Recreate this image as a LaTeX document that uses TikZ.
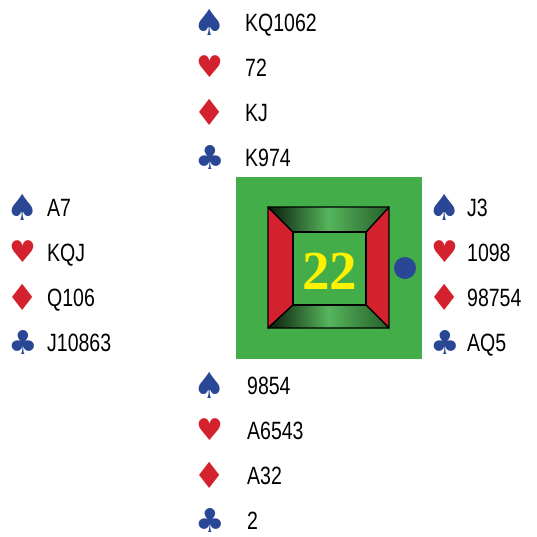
\documentclass[tikz,border=0pt]{standalone}
\usepackage{fontspec}
\setmainfont{Liberation Sans}[FakeStretch=0.78]
\newfontfamily\suitfont{DejaVu Sans}
\newfontfamily\boardfont{Liberation Serif}
\definecolor{felt}{HTML}{43AD4A}
\definecolor{suitblue}{HTML}{2A4796}
\definecolor{suitred}{HTML}{D3222E}
\definecolor{numyellow}{HTML}{FFF200}
\newcommand\spadesym{{\suitfont\fontsize{36}{36}\selectfont\char"2660}}
\newcommand\heartsym{{\suitfont\fontsize{30}{30}\selectfont\char"2665}}
\newcommand\diamsym{{\suitfont\fontsize{36}{36}\selectfont\char"2666}}
\newcommand\clubsym{{\suitfont\fontsize{33}{33}\selectfont\char"2663}}
\tikzset{
  suit/.style={inner sep=0pt},
  holding/.style={anchor=base west, inner sep=0pt, font=\fontsize{25}{25}\selectfont},
  frame/.style={draw=black, line width=1.3pt, line join=round},
  bevel/.style={left color=black!85!felt, right color=felt!55!black, middle color=felt!90!white},
}
\begin{document}
\begin{tikzpicture}[x=1pt,y=-1pt]
  \useasboundingbox (0,0) rectangle (537,536);
  % Board
  \fill[felt] (236,177) rectangle (422,359);
  % Red sides
  \filldraw[frame, fill=suitred] (268,207) -- (293,232) -- (293,305) -- (268,328) -- cycle;
  \filldraw[frame, fill=suitred] (389,207) -- (366,232) -- (366,305) -- (389,328) -- cycle;
  % Shaded top and bottom
  \shade[bevel] (268,207) -- (389,207) -- (366,232) -- (293,232) -- cycle;
  \shade[bevel] (268,328) -- (389,328) -- (366,305) -- (293,305) -- cycle;
  \draw[frame] (268,207) -- (389,207) -- (366,232) -- (293,232) -- cycle;
  \draw[frame] (268,328) -- (389,328) -- (366,305) -- (293,305) -- cycle;
  \filldraw[frame, fill=felt] (293,232) rectangle (366,305);
  \node[font=\boardfont\bfseries\fontsize{55}{55}\selectfont, text=numyellow, inner sep=0pt] (num) at (329.5,271) {22};
  % Dealer
  \node[circle, fill=suitblue, minimum size=22pt, inner sep=0pt] (dealer) at (405,268) {};
  % Hands
  \foreach \hand/\sx/\tx/\ty/\s/\h/\d/\c in {
      north/210/245/22/KQ1062/72/KJ/K974,
      west/23/47/207/A7/KQJ/Q106/J10863,
      east/445/467/207/J3/1098/98754/AQ5,
      south/210/247/385/9854/A6543/A32/2} {
    \foreach \sym/\col/\card [count=\i] in {\spadesym/suitblue/\s, \heartsym/suitred/\h, \diamsym/suitred/\d, \clubsym/suitblue/\c} {
      \node[suit, text=\col] (\hand-suit-\i) at (\sx,{\ty+45*(\i-1)}) {\sym};
      \node[holding] (\hand-card-\i) at (\tx,{\ty+45*(\i-1)+9}) {\card};
    }
  }
\end{tikzpicture}
\end{document}
